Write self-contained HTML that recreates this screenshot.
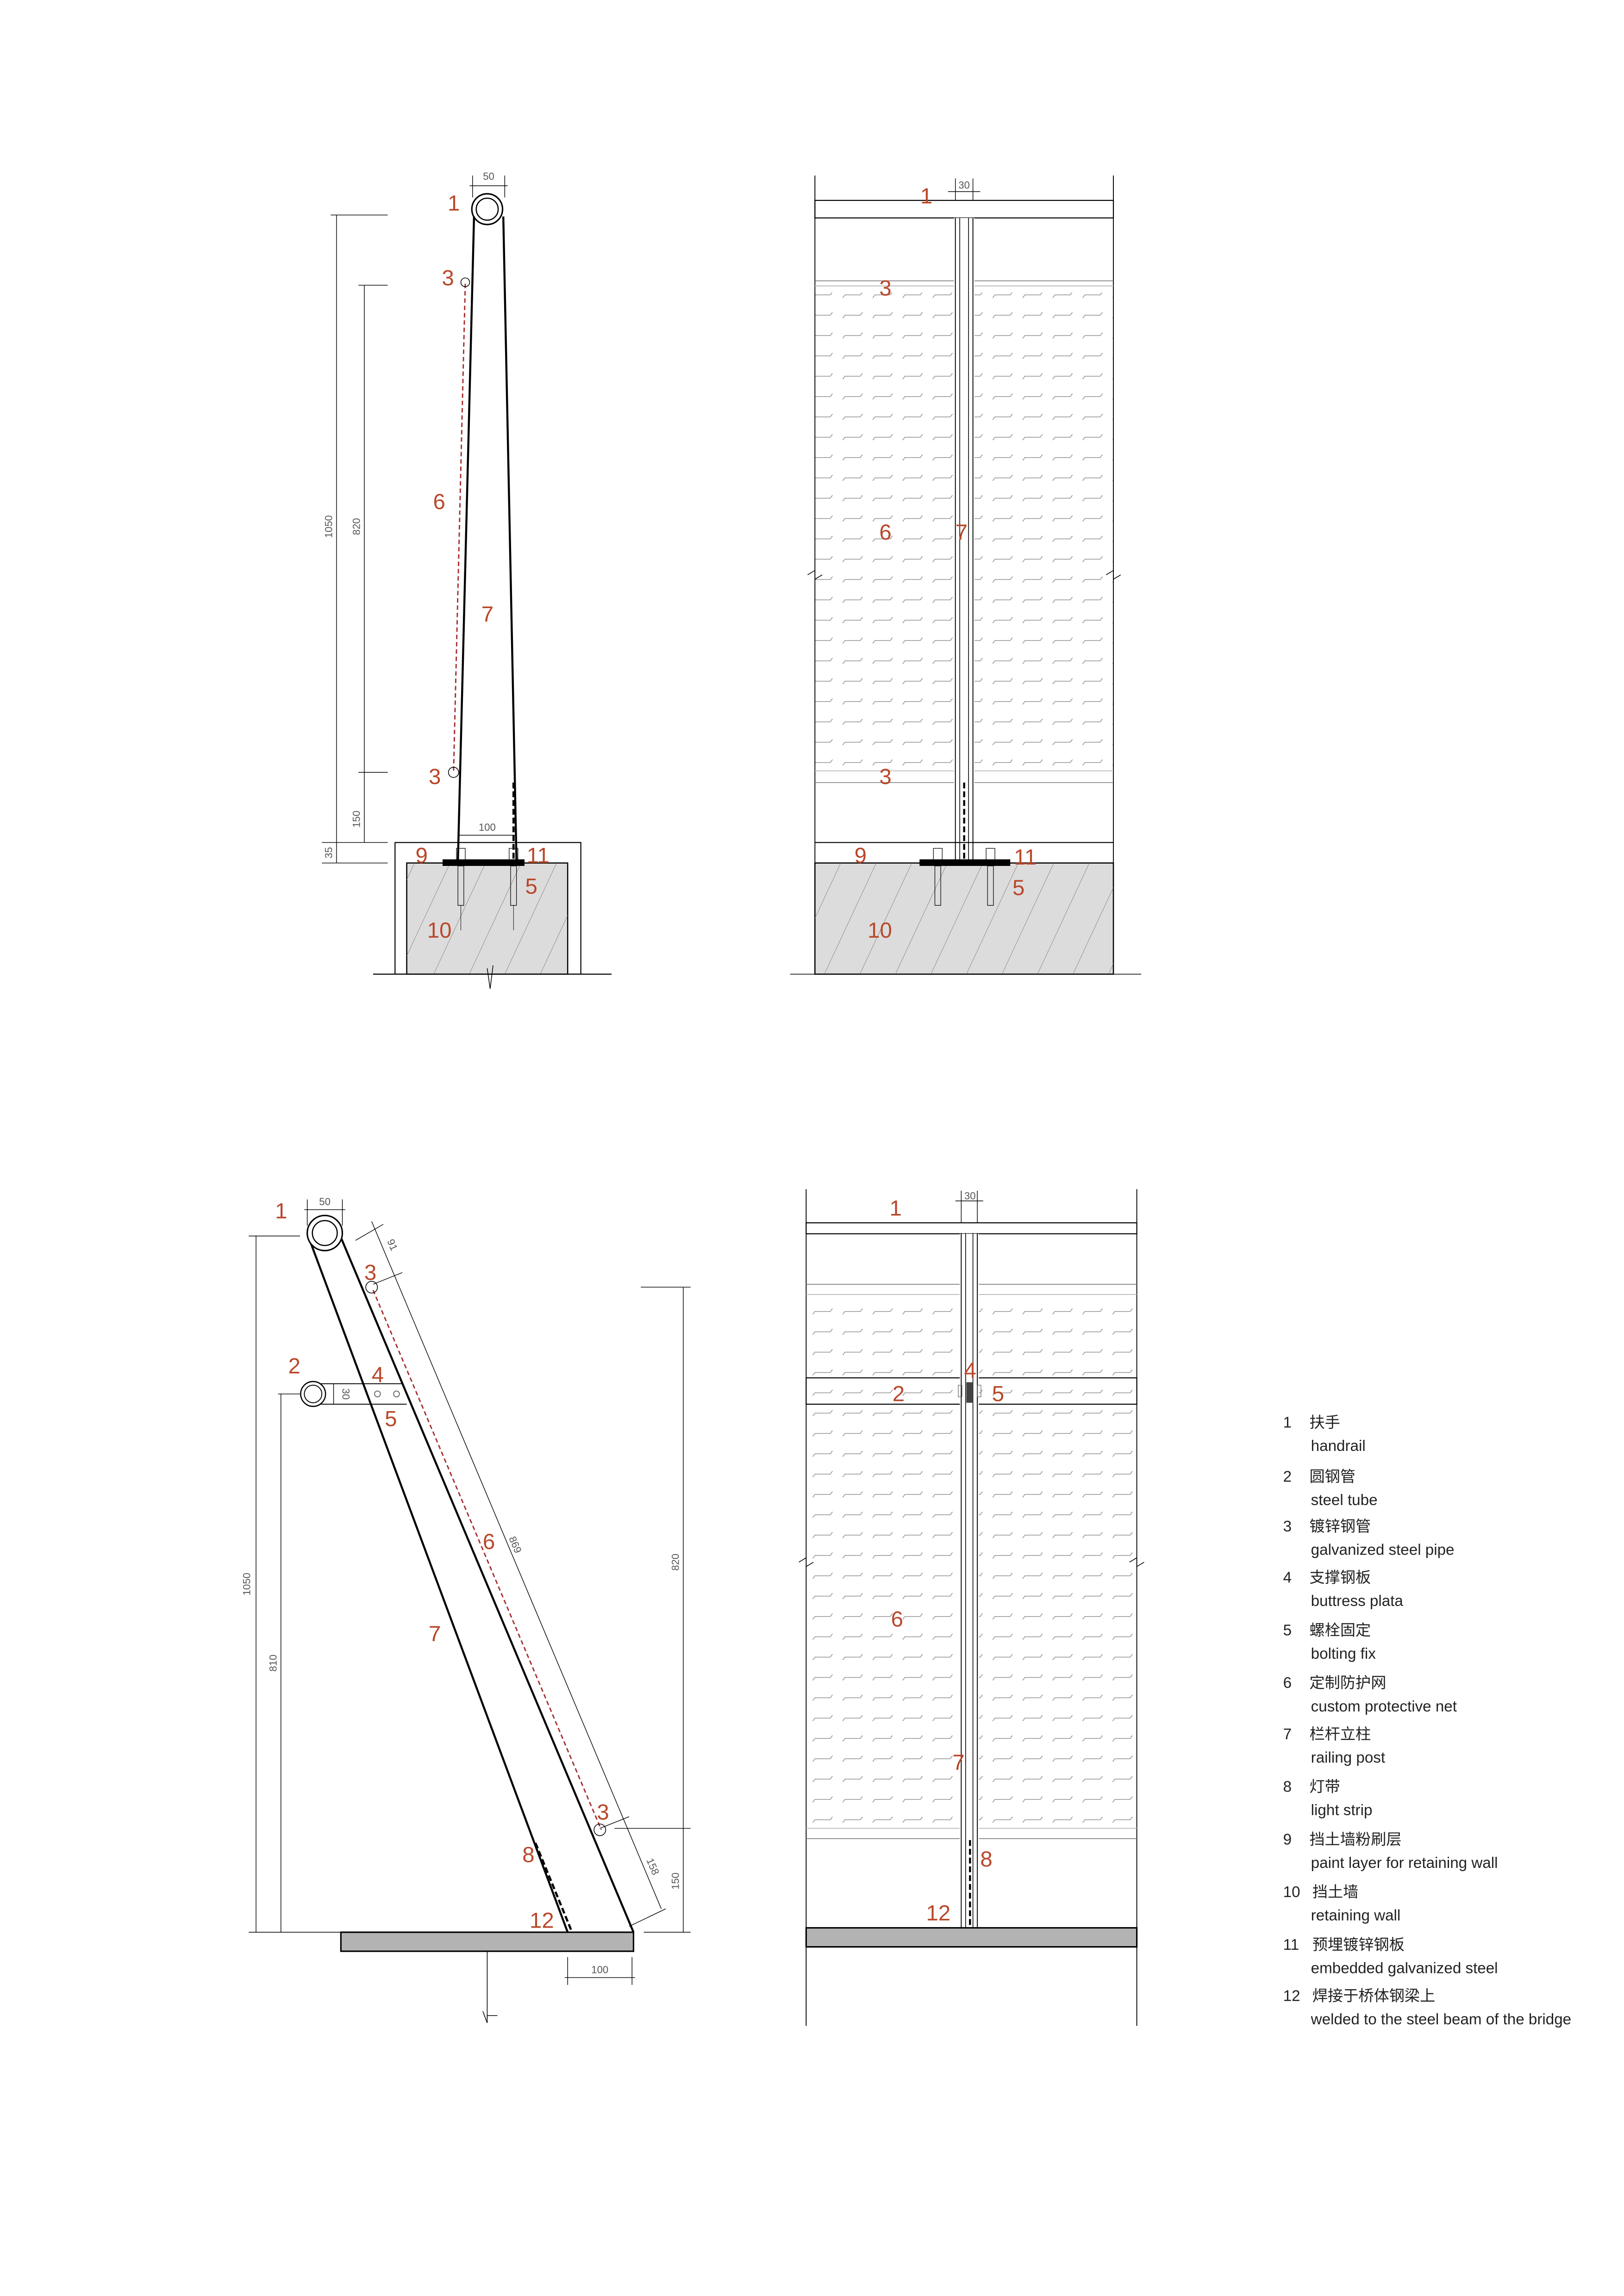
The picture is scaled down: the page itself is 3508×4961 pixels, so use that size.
<!DOCTYPE html>
<html><head><meta charset="utf-8"><style>
html,body{margin:0;padding:0;background:#fff;}
svg{display:block;}
.r{fill:#b9472a;font-family:"Liberation Sans",sans-serif;font-size:15px;}
.d{fill:#555;font-family:"Liberation Sans",sans-serif;font-size:7px;}
.lg{fill:#222;font-family:"Liberation Sans","Noto Sans CJK SC",sans-serif;font-size:10.5px;}
</style></head><body>
<svg width="3508" height="4961" viewBox="0 0 1110 1569.7" preserveAspectRatio="none" xmlns="http://www.w3.org/2000/svg">
<defs>
<pattern id="mesh" width="20.5" height="13.9" patternUnits="userSpaceOnUse">
<path d="M2,9 L3.5,7 L14,7 L15.5,5" fill="none" stroke="#888" stroke-width="0.45"/>
</pattern>
<pattern id="hatch" width="22" height="22" patternUnits="userSpaceOnUse" patternTransform="rotate(25)">
<line x1="0" y1="0" x2="0" y2="22" stroke="#777" stroke-width="0.5"/>
</pattern>
</defs>
<rect width="1110" height="1569.7" fill="#fff"/>

<!-- ============ TOP LEFT ============ -->
<g stroke="#000" fill="none">
<rect x="270" y="576" width="127" height="90" stroke-width="0.7"/>
<rect x="278" y="590" width="110" height="76" fill="#dcdcdc" stroke-width="0.8"/>
<rect x="278" y="590" width="110" height="76" fill="url(#hatch)" stroke="none"/>
<line x1="255" y1="666" x2="418" y2="666" stroke-width="0.7"/>
<path d="M333,662 L335,676 L337,660" stroke-width="0.5"/>
<rect x="303" y="588" width="55" height="3.5" fill="#000"/>
<line x1="324" y1="148" x2="313" y2="588" stroke-width="1.4"/>
<line x1="344" y1="148" x2="353" y2="588" stroke-width="1.4"/>
<line x1="351" y1="535" x2="351" y2="588" stroke-width="1.5" stroke-dasharray="4,2"/>
<circle cx="333" cy="143" r="10.5" stroke-width="1"/>
<circle cx="333" cy="143" r="7.5" stroke-width="0.8"/>
<line x1="318" y1="194" x2="310" y2="528" stroke="#a52a2a" stroke-width="0.9" stroke-dasharray="3,2"/>
<circle cx="318" cy="193" r="3" stroke-width="0.5"/>
<circle cx="310" cy="528" r="3.5" stroke-width="0.5"/>
<!-- bolts -->
<rect x="312" y="580" width="6" height="8" stroke-width="0.4"/>
<rect x="348" y="580" width="6" height="8" stroke-width="0.4"/>
<rect x="313" y="592" width="4" height="27" stroke-width="0.4"/>
<rect x="349" y="592" width="4" height="27" stroke-width="0.4"/>
<line x1="315" y1="619" x2="315" y2="636" stroke-width="0.3"/>
<line x1="351" y1="619" x2="351" y2="636" stroke-width="0.3"/>
<!-- dims -->
<g stroke-width="0.45">
<line x1="230" y1="147" x2="230" y2="590"/>
<line x1="226" y1="147" x2="265" y2="147"/>
<line x1="220" y1="576" x2="265" y2="576"/>
<line x1="220" y1="590" x2="265" y2="590"/>
<line x1="249" y1="195" x2="249" y2="576"/>
<line x1="245" y1="195" x2="265" y2="195"/>
<line x1="245" y1="528" x2="265" y2="528"/>
<line x1="323" y1="120" x2="323" y2="135"/>
<line x1="345" y1="120" x2="345" y2="135"/>
<line x1="321" y1="127" x2="347" y2="127"/>
<line x1="313" y1="571" x2="353" y2="571"/>
</g>
</g>
<text class="d" transform="translate(227,360) rotate(-90)" text-anchor="middle">1050</text>
<text class="d" transform="translate(246,360) rotate(-90)" text-anchor="middle">820</text>
<text class="d" transform="translate(246,560) rotate(-90)" text-anchor="middle">150</text>
<text class="d" transform="translate(227,583) rotate(-90)" text-anchor="middle">35</text>
<text class="d" x="334" y="123" text-anchor="middle">50</text>
<text class="d" x="333" y="568" text-anchor="middle">100</text>
<text class="r" x="306" y="144">1</text>
<text class="r" x="302" y="195">3</text>
<text class="r" x="296" y="348">6</text>
<text class="r" x="329" y="425">7</text>
<text class="r" x="293" y="536">3</text>
<text class="r" x="284" y="590">9</text>
<text class="r" x="360" y="590">11</text>
<text class="r" x="359" y="611">5</text>
<text class="r" x="292" y="641">10</text>

<!-- ============ TOP RIGHT ============ -->
<g stroke="#000" fill="none">
<rect x="557" y="200" width="204" height="325" fill="url(#mesh)" stroke="none"/>
<line x1="557" y1="120" x2="557" y2="666" stroke-width="0.6"/>
<line x1="761" y1="120" x2="761" y2="666" stroke-width="0.6"/>
<rect x="557" y="137" width="204" height="12" stroke-width="0.7"/>
<line x1="557" y1="192" x2="761" y2="192" stroke="#777" stroke-width="0.5"/>
<line x1="557" y1="195.5" x2="761" y2="195.5" stroke="#bbb" stroke-width="0.6"/>
<line x1="557" y1="527" x2="761" y2="527" stroke="#bbb" stroke-width="0.6"/>
<line x1="557" y1="535" x2="761" y2="535" stroke="#777" stroke-width="0.5"/>
<rect x="652" y="149" width="14" height="439" fill="#fff" stroke="none"/>
<line x1="653" y1="149" x2="653" y2="588" stroke-width="0.6"/>
<line x1="656" y1="149" x2="656" y2="588" stroke-width="0.5"/>
<line x1="662" y1="149" x2="662" y2="588" stroke-width="0.5"/>
<line x1="665" y1="149" x2="665" y2="588" stroke-width="0.6"/>
<line x1="659" y1="535" x2="659" y2="588" stroke-width="1.4" stroke-dasharray="4,2"/>
<path d="M552,393 L557,390 L557,396 L562,393" stroke-width="0.5"/>
<path d="M756,393 L761,390 L761,396 L766,393" stroke-width="0.5"/>
<line x1="557" y1="576" x2="761" y2="576" stroke-width="0.7"/>
<rect x="557" y="590" width="204" height="76" fill="#dcdcdc" stroke-width="0.8"/>
<rect x="557" y="590" width="204" height="76" fill="url(#hatch)" stroke="none"/>
<line x1="540" y1="666" x2="780" y2="666" stroke-width="0.5"/>
<rect x="629" y="588" width="61" height="3.5" fill="#000"/>
<rect x="638" y="580" width="6" height="8" stroke-width="0.4"/>
<rect x="674" y="580" width="6" height="8" stroke-width="0.4"/>
<rect x="639" y="592" width="4" height="27" stroke-width="0.4"/>
<rect x="675" y="592" width="4" height="27" stroke-width="0.4"/>
<g stroke-width="0.45">
<line x1="653" y1="122" x2="653" y2="137"/>
<line x1="665" y1="122" x2="665" y2="137"/>
<line x1="648" y1="131" x2="670" y2="131"/>
</g>
</g>
<text class="d" x="659" y="129" text-anchor="middle">30</text>
<text class="r" x="629" y="139">1</text>
<text class="r" x="601" y="202">3</text>
<text class="r" x="601" y="369">6</text>
<text class="r" x="653" y="369">7</text>
<text class="r" x="601" y="536">3</text>
<text class="r" x="584" y="590">9</text>
<text class="r" x="693" y="591">11</text>
<text class="r" x="692" y="612">5</text>
<text class="r" x="593" y="641">10</text>

<!-- ============ BOTTOM LEFT ============ -->
<g stroke="#000" fill="none">
<line x1="211" y1="846" x2="388" y2="1321" stroke-width="1.4"/>
<line x1="233" y1="846" x2="433" y2="1321" stroke-width="1.4"/>
<line x1="366" y1="1260" x2="391" y2="1321" stroke-width="1.5" stroke-dasharray="4,2"/>
<circle cx="222" cy="843" r="12" stroke-width="1" fill="#fff"/>
<circle cx="222" cy="843" r="8.5" stroke-width="0.8"/>
<line x1="255" y1="882" x2="411" y2="1251" stroke="#a52a2a" stroke-width="0.9" stroke-dasharray="3,2"/>
<circle cx="254" cy="880" r="4" stroke-width="0.5"/>
<circle cx="410" cy="1251" r="4" stroke-width="0.5"/>
<!-- steel tube bracket -->
<line x1="215" y1="946" x2="275" y2="946" stroke-width="0.6"/>
<line x1="215" y1="960" x2="278" y2="960" stroke-width="0.6"/>
<circle cx="214" cy="953" r="8.5" stroke-width="0.8" fill="#fff"/>
<circle cx="214" cy="953" r="6" stroke-width="0.6"/>
<circle cx="258" cy="953" r="2" stroke="#666" stroke-width="0.6"/>
<circle cx="271" cy="953" r="2" stroke="#666" stroke-width="0.6"/>
<rect x="233" y="1321" width="200" height="13" fill="#b3b3b3" stroke-width="1"/>
<line x1="333" y1="1334" x2="333" y2="1380" stroke-width="0.5"/>
<path d="M330,1375 L333,1383 L333,1378 L340,1378" stroke-width="0.5"/>
<g stroke-width="0.45">
<!-- diagonal dim -->
<line x1="254" y1="835" x2="452" y2="1305"/>
<line x1="243" y1="848" x2="262" y2="837"/>
<line x1="255" y1="878" x2="275" y2="870"/>
<line x1="410" y1="1250" x2="430" y2="1242"/>
<line x1="430" y1="1317" x2="455" y2="1305"/>
<!-- left dims -->
<line x1="175" y1="845" x2="175" y2="1321"/>
<line x1="170" y1="845" x2="205" y2="845"/>
<line x1="190" y1="953" x2="205" y2="953"/>
<line x1="192" y1="953" x2="192" y2="1321"/>
<line x1="170" y1="1321" x2="233" y2="1321"/>
<!-- right dims -->
<line x1="467" y1="880" x2="467" y2="1321"/>
<line x1="438" y1="880" x2="472" y2="880"/>
<line x1="420" y1="1250" x2="472" y2="1250"/>
<line x1="440" y1="1321" x2="472" y2="1321"/>
<!-- 100 -->
<line x1="388" y1="1338" x2="388" y2="1357"/>
<line x1="432" y1="1338" x2="432" y2="1357"/>
<line x1="386" y1="1352" x2="434" y2="1352"/>
<!-- 50 -->
<line x1="210" y1="820" x2="210" y2="838"/>
<line x1="234" y1="820" x2="234" y2="838"/>
<line x1="208" y1="827" x2="236" y2="827"/>
<line x1="228" y1="946" x2="228" y2="960"/>
</g>
</g>
<text class="d" transform="translate(171,1083) rotate(-90)" text-anchor="middle">1050</text>
<text class="d" transform="translate(189,1137) rotate(-90)" text-anchor="middle">810</text>
<text class="d" transform="translate(464,1068) rotate(-90)" text-anchor="middle">820</text>
<text class="d" transform="translate(464,1286) rotate(-90)" text-anchor="middle">150</text>
<text class="d" transform="translate(266,852) rotate(67)" text-anchor="middle">91</text>
<text class="d" transform="translate(350,1057) rotate(67)" text-anchor="middle">869</text>
<text class="d" transform="translate(444,1277) rotate(67)" text-anchor="middle">158</text>
<text class="d" transform="translate(234,953) rotate(90)" text-anchor="middle">30</text>
<text class="d" x="222" y="824" text-anchor="middle">50</text>
<text class="d" x="410" y="1349" text-anchor="middle">100</text>
<text class="r" x="188" y="833">1</text>
<text class="r" x="197" y="939">2</text>
<text class="r" x="249" y="875">3</text>
<text class="r" x="254" y="945">4</text>
<text class="r" x="263" y="975">5</text>
<text class="r" x="330" y="1059">6</text>
<text class="r" x="293" y="1122">7</text>
<text class="r" x="357" y="1273">8</text>
<text class="r" x="362" y="1318">12</text>
<text class="r" x="408" y="1244">3</text>

<!-- ============ BOTTOM RIGHT ============ -->
<g stroke="#000" fill="none">
<rect x="551" y="890" width="226" height="358" fill="url(#mesh)" stroke="none"/>
<line x1="551" y1="813" x2="551" y2="1385" stroke-width="0.6"/>
<line x1="777" y1="813" x2="777" y2="1385" stroke-width="0.6"/>
<rect x="551" y="836" width="226" height="7.5" stroke-width="0.7"/>
<line x1="551" y1="878" x2="777" y2="878" stroke="#777" stroke-width="0.5"/>
<line x1="551" y1="885" x2="777" y2="885" stroke="#bbb" stroke-width="0.6"/>
<rect x="551" y="942" width="226" height="18" stroke-width="0.7"/>
<line x1="551" y1="1250" x2="777" y2="1250" stroke="#bbb" stroke-width="0.6"/>
<line x1="551" y1="1257" x2="777" y2="1257" stroke="#777" stroke-width="0.5"/>
<rect x="656" y="843.5" width="13" height="475" fill="#fff" stroke="none"/>
<line x1="657" y1="843" x2="657" y2="1318" stroke-width="0.6"/>
<line x1="660" y1="843" x2="660" y2="1318" stroke-width="0.5"/>
<line x1="665" y1="843" x2="665" y2="1318" stroke-width="0.5"/>
<line x1="668" y1="843" x2="668" y2="1318" stroke-width="0.6"/>
<rect x="660.5" y="945" width="4.5" height="14" fill="#444" stroke="none"/>
<rect x="655" y="947" width="2.5" height="8" stroke="#666" stroke-width="0.4"/>
<rect x="668" y="947" width="2.5" height="8" stroke="#666" stroke-width="0.4"/>
<line x1="663" y1="1258" x2="663" y2="1318" stroke-width="1.4" stroke-dasharray="4,2"/>
<path d="M546,1068 L551,1065 L551,1071 L556,1068" stroke-width="0.5"/>
<path d="M772,1068 L777,1065 L777,1071 L782,1068" stroke-width="0.5"/>
<rect x="551" y="1318" width="226" height="13" fill="#b3b3b3" stroke-width="1"/>
<g stroke-width="0.45">
<line x1="657" y1="814" x2="657" y2="836"/>
<line x1="668" y1="814" x2="668" y2="836"/>
<line x1="653" y1="821" x2="672" y2="821"/>
</g>
</g>
<text class="d" x="663" y="820" text-anchor="middle">30</text>
<text class="r" x="608" y="831">1</text>
<text class="r" x="610" y="958">2</text>
<text class="r" x="659" y="942">4</text>
<text class="r" x="678" y="958">5</text>
<text class="r" x="609" y="1112">6</text>
<text class="r" x="651" y="1210">7</text>
<text class="r" x="670" y="1276">8</text>
<text class="r" x="633" y="1313">12</text>

<!-- ============ LEGEND ============ -->
<g class="lg">
<text x="877" y="976">1</text><text x="895" y="976">扶手</text><text x="896" y="992">handrail</text>
<text x="877" y="1013">2</text><text x="895" y="1013">圆钢管</text><text x="896" y="1029">steel tube</text>
<text x="877" y="1047">3</text><text x="895" y="1047">镀锌钢管</text><text x="896" y="1063">galvanized steel pipe</text>
<text x="877" y="1082">4</text><text x="895" y="1082">支撑钢板</text><text x="896" y="1098">buttress plata</text>
<text x="877" y="1118">5</text><text x="895" y="1118">螺栓固定</text><text x="896" y="1134">bolting  fix</text>
<text x="877" y="1154">6</text><text x="895" y="1154">定制防护网</text><text x="896" y="1170">custom protective net</text>
<text x="877" y="1189">7</text><text x="895" y="1189">栏杆立柱</text><text x="896" y="1205">railing post</text>
<text x="877" y="1225">8</text><text x="895" y="1225">灯带</text><text x="896" y="1241">light strip</text>
<text x="877" y="1261">9</text><text x="895" y="1261">挡土墙粉刷层</text><text x="896" y="1277">paint layer for retaining wall</text>
<text x="877" y="1297">10</text><text x="897" y="1297">挡土墙</text><text x="896" y="1313">retaining wall</text>
<text x="877" y="1333">11</text><text x="897" y="1333">预埋镀锌钢板</text><text x="896" y="1349">embedded galvanized steel</text>
<text x="877" y="1368">12</text><text x="897" y="1368">焊接于桥体钢梁上</text><text x="896" y="1384">welded to the steel beam of the bridge</text>
</g>
</svg>
</body></html>
